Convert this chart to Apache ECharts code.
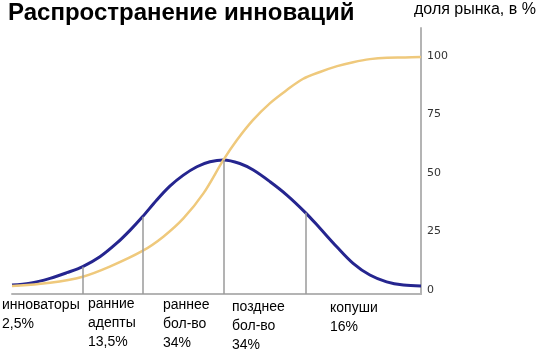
<!DOCTYPE html>
<html><head><meta charset="utf-8">
<script src="https://cdn.jsdelivr.net/npm/echarts@6/dist/echarts.min.js"></script>
<style>html,body{margin:0;padding:0;background:#fff}#c{width:538px;height:356px}</style>
</head><body><div id="c"></div>
<script>
var titleText = 'Распространение инноваций';
var yAxisName = 'доля рынка, в %';
var yTicks = [0, 25, 50, 75, 100];
var bellX = [0, 4.4, 9.3, 13.4, 17.3, 21.5, 25.6, 28.9, 31.9, 35.4, 38.6, 41.9, 45.2, 48.4, 51.7, 55.7, 59.0, 63.1, 67.2, 71.8, 75.3, 79.4, 83.4, 87.5, 91.6, 95.7, 100];
var bellY = [2.1, 2.9, 5.0, 7.4, 10.0, 14.2, 20.0, 25.6, 31.3, 38.5, 44.4, 49.1, 52.7, 54.8, 55.6, 54.1, 51.3, 46.3, 40.6, 33.0, 26.4, 18.5, 11.4, 6.4, 3.5, 2.1, 1.7];
var sX = [0, 9.3, 17.3, 23.9, 31.9, 37.0, 41.9, 46.8, 51.7, 55.0, 58.9, 63.1, 67.2, 71.1, 75.3, 79.5, 83.4, 87.5, 91.7, 96.1, 100];
var sY = [1.7, 3.1, 5.7, 10.0, 16.7, 22.8, 30.6, 41.3, 55.6, 64.1, 72.6, 79.9, 85.5, 90.2, 93.2, 95.7, 97.4, 98.7, 99.3, 99.4, 99.6];
var dividerX = [17.3, 31.9, 51.7, 71.8];
var categories = [
  ['инноваторы', '2,5%'],
  ['ранние', 'адепты', '13,5%'],
  ['раннее', 'бол-во', '34%'],
  ['позднее', 'бол-во', '34%'],
  ['копуши', '16%']
];
var catPos = [[2, 296], [88, 295], [163, 296], [232, 298], [330, 299]];

var FONT = '"Liberation Sans", Arial, Helvetica, sans-serif';
var chart = echarts.init(document.getElementById('c'));

function pairs(xs, ys) { return xs.map(function (x, i) { return [x, ys[i]]; }); }
var dividerLines = dividerX.map(function (x) {
  var i = bellX.indexOf(x);
  return [{ coord: [x, -1.7] }, { coord: [x, bellY[i]] }];
});

var graphics = [
  { type: 'text', left: 8, top: 1, style: { text: titleText, font: 'bold 24px ' + FONT, fill: '#000' } },
  { type: 'text', left: 414, top: 2, style: { text: yAxisName, font: '16px ' + FONT, fill: '#000' } }
];
categories.forEach(function (lines, k) {
  graphics.push({ type: 'text', left: catPos[k][0], top: catPos[k][1],
    style: { text: lines.join('\n'), font: '14px ' + FONT, fill: '#000', lineHeight: 19 } });
});

chart.setOption({
  animation: false,
  grid: { left: 12, right: 117, top: 28, bottom: 62 },
  xAxis: { type: 'value', min: 0, max: 100,
    axisLine: { show: true, onZero: false, lineStyle: { color: '#b4b4b4', width: 2 } },
    axisTick: { show: false }, axisLabel: { show: false }, splitLine: { show: false } },
  yAxis: { type: 'value', position: 'right', min: -1.7, max: 112,
    axisLine: { show: true, onZero: false, lineStyle: { color: '#b4b4b4', width: 2 } },
    axisTick: { show: false }, splitLine: { show: false },
    axisLabel: { customValues: yTicks, margin: 6, color: '#333', fontSize: 11, fontFamily: 'DejaVu Sans' } },
  graphic: graphics,
  series: [
    { type: 'line', data: pairs(bellX, bellY), smooth: 0.33, showSymbol: false,
      lineStyle: { color: '#25258f', width: 3 }, z: 3,
      markLine: { silent: true, symbol: ['none', 'none'], label: { show: false },
        lineStyle: { color: '#9a9a9a', width: 1.5, type: 'solid' }, data: dividerLines } },
    { type: 'line', data: pairs(sX, sY), smooth: 0.33, showSymbol: false,
      lineStyle: { color: '#efc97c', width: 2.5 }, z: 4 }
  ]
});
</script></body></html>
